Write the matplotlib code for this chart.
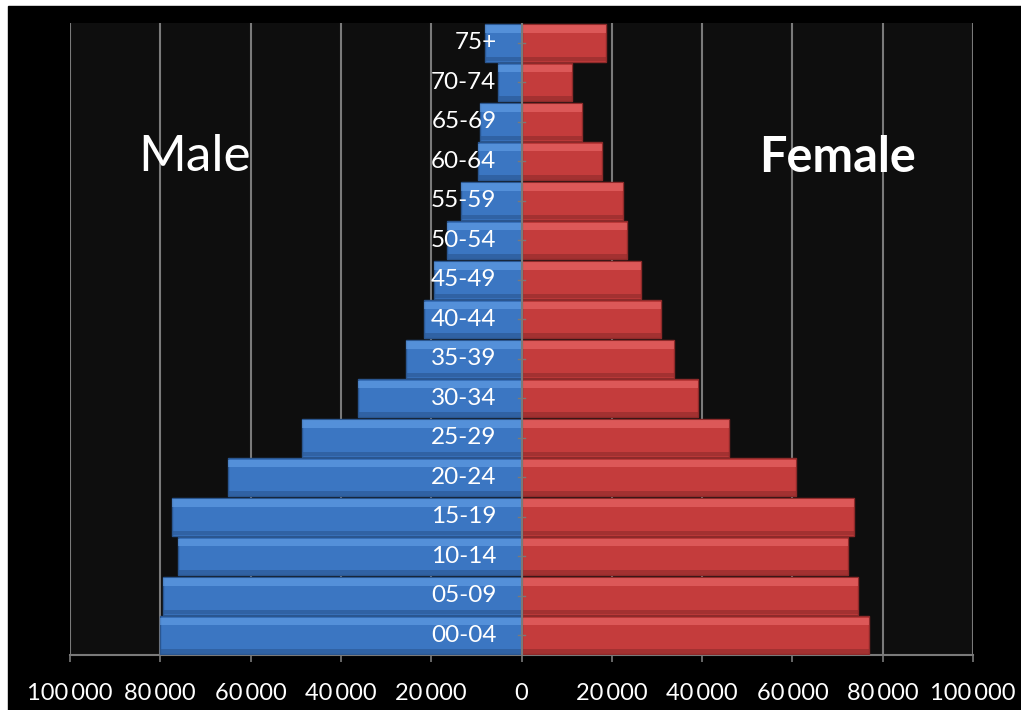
import matplotlib
matplotlib.use("Agg")
import matplotlib.pyplot as plt
import numpy as np
from matplotlib.patches import Rectangle
from matplotlib.ticker import FuncFormatter

# age groups, bottom to top
ages = ["00-04", "05-09", "10-14", "15-19", "20-24", "25-29", "30-34", "35-39",
        "40-44", "45-49", "50-54", "55-59", "60-64", "65-69", "70-74", "75+"]
male = [80000, 79500, 76000, 77500, 65100, 48700, 36300, 25500,
        21500, 19300, 16400, 13300, 9700, 9100, 5300, 8000]
female = [76900, 74600, 72400, 73700, 60900, 46000, 39000, 33700,
          30800, 26400, 23300, 22400, 17900, 13500, 11100, 18800]

font = ["Lato", "DejaVu Sans"]
W, H = 1021, 710
fig = plt.figure(figsize=(W / 100, H / 100), dpi=100, facecolor="white")
# black slide background, thin white border top/left
fig.patches.append(Rectangle((8 / W, 0), 1, 1 - 6 / H, transform=fig.transFigure,
                             color="black", zorder=-10))
ax = fig.add_axes([70 / W, 1 - 655 / H, (973 - 70) / W, (655 - 23) / H])
ax.set_facecolor("#0e0e0e")

y = np.arange(len(ages))
h = 0.97
blue, blue_hi, blue_lo = "#3b76c2", "#6aa6ec", "#2a5690"
red, red_hi, red_lo = "#c43c3c", "#f07070", "#8e2a2a"

m = -np.array(male)
f = np.array(female)
ax.barh(y, m, h, color=blue, edgecolor=blue_lo, linewidth=1, zorder=3)
ax.barh(y, f, h, color=red, edgecolor=red_lo, linewidth=1, zorder=3)
# bevel highlight along the top of each bar, shade at the bottom
ax.barh(y + h * 0.36, m, h * 0.2, color=blue_hi, alpha=0.55, linewidth=0, zorder=4)
ax.barh(y + h * 0.36, f, h * 0.2, color=red_hi, alpha=0.55, linewidth=0, zorder=4)
ax.barh(y - h * 0.42, m, h * 0.12, color=blue_lo, alpha=0.6, linewidth=0, zorder=4)
ax.barh(y - h * 0.42, f, h * 0.12, color=red_lo, alpha=0.6, linewidth=0, zorder=4)

ax.set_xlim(-100000, 100000)
ax.set_ylim(-0.5, len(ages) - 0.5)
ax.set_xticks(np.arange(-100000, 100001, 20000))
ax.xaxis.set_major_formatter(FuncFormatter(lambda v, p: f"{abs(int(v)):,}".replace(",", "\u2009")))
ax.grid(axis="x", color="#7a7a7a", linewidth=1.5, zorder=1)
ax.set_yticks([])
ax.axvline(0, color="#7a7a7a", linewidth=1.5, zorder=5)
for yy in y:
    ax.plot([-700, 700], [yy, yy], color="#7a7a7a", linewidth=1, zorder=6)

for sp in ["top", "right", "left"]:
    ax.spines[sp].set_visible(False)
ax.spines["bottom"].set_color("#7a7a7a")
ax.spines["bottom"].set_linewidth(1.5)
ax.tick_params(axis="x", colors="#7a7a7a", length=5, width=1.2, pad=15)
for lab in ax.get_xticklabels():
    lab.set_color("white")
    lab.set_fontsize(17)
    lab.set_family(font)

for yy, a in zip(y, ages):
    ax.annotate(a, (0, yy), xytext=(-18, 0), textcoords="offset points",
                ha="right", va="center", color="white", fontsize=17.5,
                family=font, zorder=7)

ax.text(195 / W, 1 - 157 / H, "Male", transform=fig.transFigure, ha="center",
        va="center", color="white", fontsize=37, family=font)
ax.text(837 / W, 1 - 157 / H, "Female", transform=fig.transFigure, ha="center",
        va="center", color="white", fontsize=35, fontweight="bold", family=font)

fig.savefig("out.png", dpi=100, facecolor=fig.get_facecolor())
